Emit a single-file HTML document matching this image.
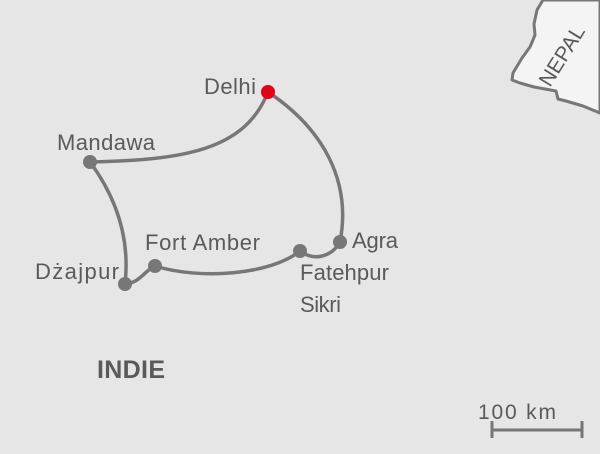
<!DOCTYPE html>
<html><head><meta charset="utf-8"><style>
html,body{margin:0;padding:0;background:#e6e6e6}
svg{display:block}
text{font-family:"Liberation Sans",sans-serif;fill:#5a5a5a}
</style></head><body>
<svg width="600" height="454" viewBox="0 0 600 454">
<rect width="600" height="454" fill="#e6e6e6"/>
<path d="M543,0 L537,10 L534,24 L535,35 L530,47 L522,58 L513,73 L512,80 L520,83 L534,87 L556,91 L558,99 L566,101 L583,106 L600,113 L600,0 Z" fill="#f4f4f4" stroke="#777" stroke-width="3" stroke-linejoin="round"/>
<text x="0" y="0" font-size="21" transform="translate(550,88) rotate(-58)" fill="#555">NEPAL</text>
<g fill="none" stroke="#777" stroke-width="3.5" stroke-linecap="round">
<path d="M268,92 C245,150 185,160 90,162"/>
<path d="M90,162 C118,200 130,240 125,284"/>
<path d="M125,284 C140,283 145,270 155,266"/>
<path d="M155,266 C200,280 270,275 300,251"/>
<path d="M300,251 C315,262 332,256 340,242"/>
<path d="M340,242 C352,180 322,128 268,92"/>
</g>
<g fill="#777">
<circle cx="90" cy="162" r="7"/>
<circle cx="125" cy="284" r="7"/>
<circle cx="155" cy="266" r="7"/>
<circle cx="300" cy="251" r="7"/>
<circle cx="340" cy="242" r="7"/>
</g>
<circle cx="268" cy="92" r="7" fill="#e2001a"/>
<g font-size="22">
<text x="204" y="94" textLength="52">Delhi</text>
<text x="57" y="150" textLength="98">Mandawa</text>
<text x="145" y="250" textLength="115">Fort Amber</text>
<text x="35" y="279" textLength="84">Dżajpur</text>
<text x="352" y="248" textLength="46">Agra</text>
<text x="300" y="280" textLength="89">Fatehpur</text>
<text x="300" y="312" textLength="41">Sikri</text>
</g>
<text x="97" y="378" font-size="25" font-weight="bold" fill="#666" textLength="68">INDIE</text>
<text x="478" y="419" font-size="21" textLength="78">100 km</text>
<g stroke="#777" stroke-width="3">
<line x1="492" y1="430" x2="582" y2="430"/>
<line x1="492" y1="421" x2="492" y2="438"/>
<line x1="582" y1="421" x2="582" y2="438"/>
</g>
</svg>
</body></html>
